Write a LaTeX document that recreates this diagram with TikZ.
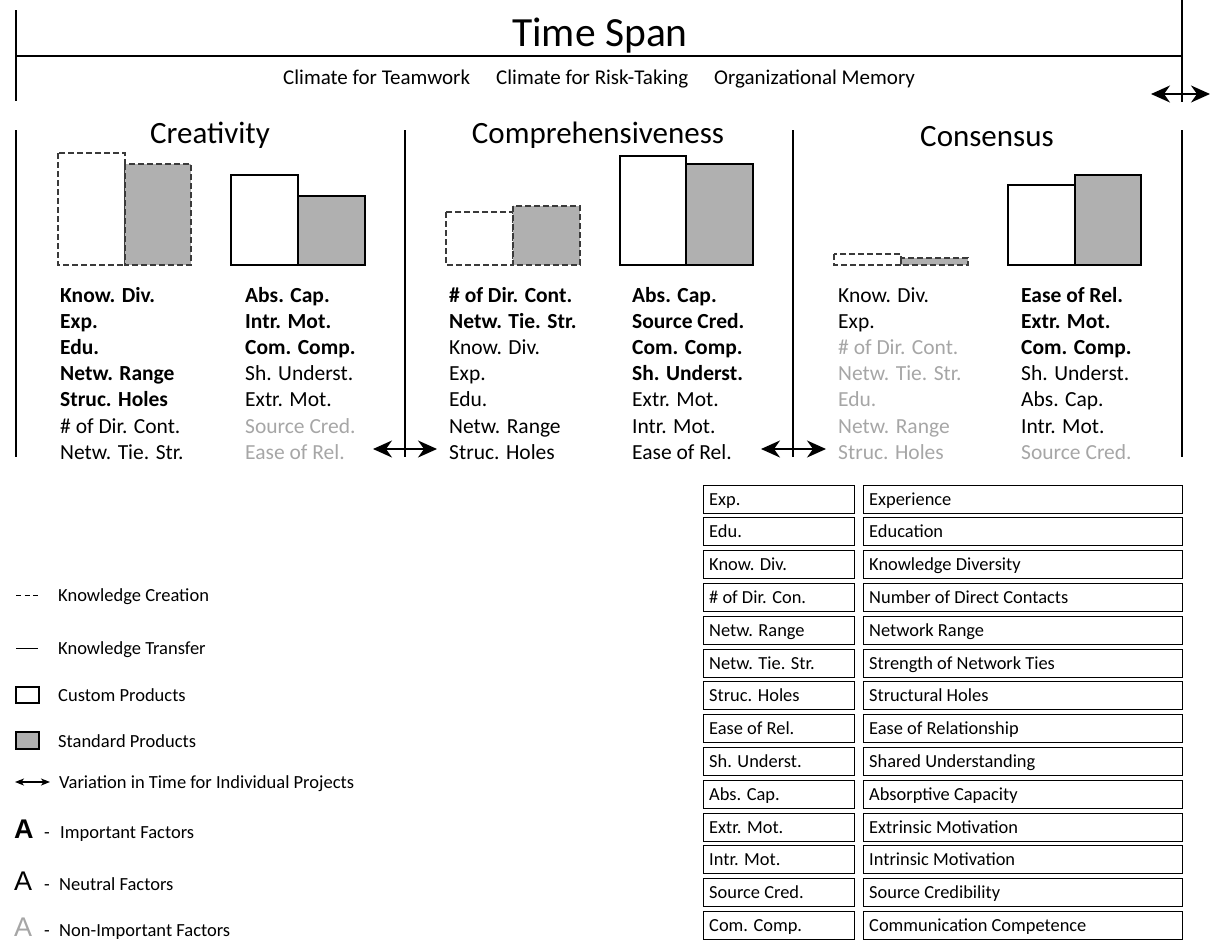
\documentclass[tikz,border=0pt]{standalone}
\usepackage{fontspec}
\setmainfont{Carlito}
\newfontfamily\markfont{Liberation Sans}
\usetikzlibrary{arrows.meta}
\definecolor{barfill}{HTML}{B0B0B0}
\definecolor{faint}{HTML}{A6A6A6}
\definecolor{dashgray}{HTML}{3A3A3A}

\begin{document}
\begin{tikzpicture}[x=1pt,y=-1pt,
  rule/.style={line width=2pt},
  span/.style={line width=1.6pt,{Stealth[length=19pt,width=17pt,inset=6pt]}-{Stealth[length=19pt,width=17pt,inset=6pt]}},
  txt/.style={inner sep=0pt,anchor=base west},
  colfont/.style={txt,font=\fontsize{21.5}{25}\selectfont},
  imp/.style={colfont,font=\fontsize{21.5}{25}\selectfont\bfseries},
  neu/.style={colfont},
  non/.style={colfont,text=faint},
  title/.style={inner sep=0pt,anchor=base,font=\fontsize{31}{36}\selectfont},
  kc/.style={draw=dashgray,line width=1.1pt,dash pattern=on 6pt off 3pt},
  kt/.style={draw=black,line width=1.1pt},
  custom/.style={fill=white},
  standard/.style={fill=barfill},
  legfont/.style={txt,font=\fontsize{18.5}{22}\selectfont},
  markA/.style={txt,font=\markfont\fontsize{27}{31}\selectfont},
  cell/.style={draw,line width=0.9pt,inner sep=0pt},
  celltext/.style={txt,font=\fontsize{18.4}{22}\selectfont},
  climfont/.style={txt,font=\fontsize{21}{25}\selectfont},
]
\useasboundingbox (0,0) rectangle (1210,940);

% ---------- time span ----------
\node[inner sep=0pt,anchor=base,font=\fontsize{41.5}{48}\selectfont] (timespan) at (600,46) {Time Span};
\node[climfont] (clim1) at (283,84) {Climate for Teamwork};
\node[climfont] (clim2) at (496,84) {Climate for Risk-Taking};
\node[climfont] (clim3) at (714,84) {Organizational Memory};
\coordinate (tsL1) at (16,10);   \coordinate (tsL2) at (16,101);
\coordinate (tsR1) at (1182,0);  \coordinate (tsR2) at (1182,102);
\coordinate (tsA) at (16,56);    \coordinate (tsB) at (1182,56);
\draw[rule] (tsL1) -- (tsL2);
\draw[rule] (tsR1) -- (tsR2);
\draw[rule] (tsA) -- (tsB);
\coordinate (vA) at (1151,94); \coordinate (vB) at (1210,94);
\draw[span] (vA) -- (vB);

% ---------- section borders ----------
\foreach \x/\n in {16/a,405/b,793/c,1182/d}{
  \coordinate (top\n) at (\x,130);
  \coordinate (bot\n) at (\x,457);
  \draw[rule] (top\n) -- (bot\n);
}
\coordinate (m1a) at (373,449); \coordinate (m1b) at (437,449);
\coordinate (m2a) at (761,449); \coordinate (m2b) at (826,449);
\draw[span] (m1a) -- (m1b);
\draw[span] (m2a) -- (m2b);

% ---------- titles ----------
\node[title] (creativity) at (210,143) {Creativity};
\node[title] (comprehensiveness) at (598,143) {Comprehensiveness};
\node[title] (consensus) at (987,146) {Consensus};

% ---------- bars (baseline y = 265) ----------
% Creativity
\draw[kc,custom]   (58,153) rectangle (125,265);
\draw[kc,standard] (125,164) rectangle (191,265);
\draw[kt,custom]   (231,175) rectangle (298,265);
\draw[kt,standard] (298,196) rectangle (365,265);
% Comprehensiveness
\draw[kc,custom]   (446,212) rectangle (513,265);
\draw[kc,standard] (513,206) rectangle (580,265);
\draw[kt,custom]   (620,156) rectangle (686,265);
\draw[kt,standard] (686,164) rectangle (753,265);
% Consensus
\draw[kc,custom]   (834,254) rectangle (901,265);
\draw[kc,standard] (901,258) rectangle (968,265);
\draw[kt,custom]   (1008,185) rectangle (1075,265);
\draw[kt,standard] (1075,175) rectangle (1141,265);

% ---------- factor lists ----------
\foreach \t/\s [count=\i from 0] in {Know. Div./imp,Exp./imp,Edu./imp,Netw. Range/imp,Struc. Holes/imp,\# of Dir. Cont./neu,Netw. Tie. Str./neu}
  \node[\s] (cra-\i) at (60,{302+26.2*\i}) {\t};
\foreach \t/\s [count=\i from 0] in {Abs. Cap./imp,Intr. Mot./imp,Com. Comp./imp,Sh. Underst./neu,Extr. Mot./neu,Source Cred./non,Ease of Rel./non}
  \node[\s] (crb-\i) at (245,{302+26.2*\i}) {\t};
\foreach \t/\s [count=\i from 0] in {\# of Dir. Cont./imp,Netw. Tie. Str./imp,Know. Div./neu,Exp./neu,Edu./neu,Netw. Range/neu,Struc. Holes/neu}
  \node[\s] (coa-\i) at (449,{302+26.2*\i}) {\t};
\foreach \t/\s [count=\i from 0] in {Abs. Cap./imp,Source Cred./imp,Com. Comp./imp,Sh. Underst./imp,Extr. Mot./neu,Intr. Mot./neu,Ease of Rel./neu}
  \node[\s] (cob-\i) at (632,{302+26.2*\i}) {\t};
\foreach \t/\s [count=\i from 0] in {Know. Div./neu,Exp./neu,\# of Dir. Cont./non,Netw. Tie. Str./non,Edu./non,Netw. Range/non,Struc. Holes/non}
  \node[\s] (csa-\i) at (838,{302+26.2*\i}) {\t};
\foreach \t/\s [count=\i from 0] in {Ease of Rel./imp,Extr. Mot./imp,Com. Comp./imp,Sh. Underst./neu,Abs. Cap./neu,Intr. Mot./neu,Source Cred./non}
  \node[\s] (csb-\i) at (1021,{302+26.2*\i}) {\t};

% ---------- legend ----------
\draw[draw=black,line width=1pt,dash pattern=on 5pt off 3.5pt] (16,595) -- (38,595);
\node[legfont] (lkc) at (58,601) {Knowledge Creation};
\draw[line width=1pt] (16,648) -- (38,648);
\node[legfont] (lkt) at (58,654) {Knowledge Transfer};
\draw[line width=1.3pt,fill=white] (16,687) rectangle (39,703);
\node[legfont] (lcp) at (58,701) {Custom Products};
\draw[line width=1.3pt,fill=barfill] (16,732) rectangle (39,749);
\node[legfont] (lsp) at (58,747) {Standard Products};
\coordinate (la) at (15,782); \coordinate (lb) at (50,782);
\draw[line width=1.2pt,{Stealth[length=9pt,width=7pt,inset=2.5pt]}-{Stealth[length=9pt,width=7pt,inset=2.5pt]}] (la) -- (lb);
\node[legfont] (lvar) at (59,788) {Variation in Time for Individual Projects};
\node[markA,font=\markfont\fontsize{27}{31}\selectfont\bfseries] (la1) at (14,838) {A};
\node[legfont] (ld1) at (44,838) {-};
\node[legfont] (lt1) at (60,838) {Important Factors};
\node[markA] (la2) at (14,890) {A};
\node[legfont] (ld2) at (44,890) {-};
\node[legfont] (lt2) at (59,890) {Neutral Factors};
\node[markA,text=faint] (la3) at (14,936) {A};
\node[legfont] (ld3) at (44,936) {-};
\node[legfont] (lt3) at (59,936) {Non-Important Factors};

% ---------- abbreviation table ----------
\foreach \a/\b [count=\i from 0] in {Exp./Experience,Edu./Education,Know. Div./Knowledge Diversity,\# of Dir. Con./Number of Direct Contacts,Netw. Range/Network Range,Netw. Tie. Str./Strength of Network Ties,Struc. Holes/Structural Holes,Ease of Rel./Ease of Relationship,Sh. Underst./Shared Understanding,Abs. Cap./Absorptive Capacity,Extr. Mot./Extrinsic Motivation,Intr. Mot./Intrinsic Motivation,Source Cred./Source Credibility,Com. Comp./Communication Competence}{
  \pgfmathsetmacro{\yt}{485+32.8*\i}
  \draw[cell] (703.5,\yt) rectangle (854.5,\yt+28);
  \draw[cell] (863.5,\yt) rectangle (1182,\yt+28);
  \node[celltext] (ab-\i) at (709,\yt+20) {\a};
  \node[celltext] (full-\i) at (869,\yt+20) {\b};
}
\end{tikzpicture}
\end{document}
